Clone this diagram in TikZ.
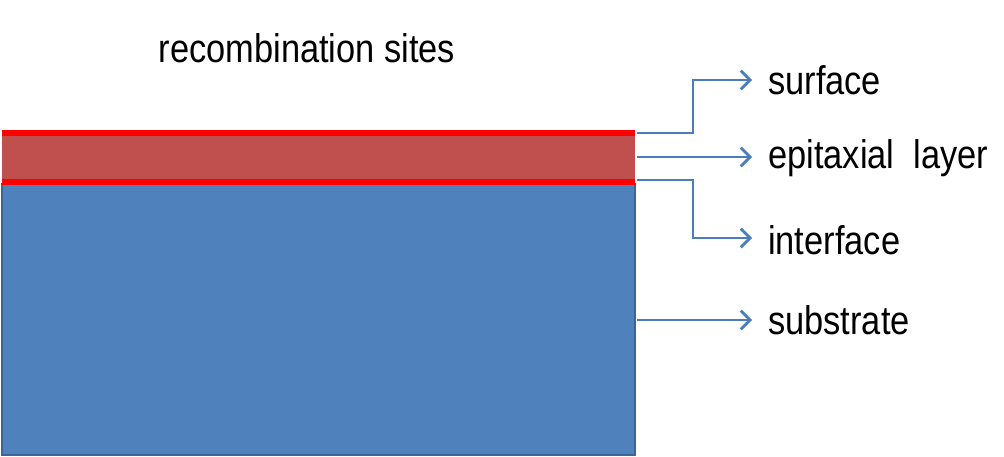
\documentclass[tikz,border=0pt]{standalone}
\usepackage{fontspec}
\setmainfont{Liberation Sans}
\usetikzlibrary{arrows.meta}
\definecolor{sub}{HTML}{4F81BD}
\definecolor{subd}{HTML}{3A6596}
\definecolor{epi}{HTML}{C0504D}
\definecolor{arr}{HTML}{4A7EBB}
\begin{document}
\begin{tikzpicture}[x=0.75pt,y=-0.75pt,
  lbl/.style={anchor=west,inner sep=0,font=\fontsize{30}{34}\selectfont,xscale=0.86},
  con/.style={draw=arr,line width=2pt,-{Straight Barb[length=7pt,width=14pt]}}]
\useasboundingbox (0,0) rectangle (1004,457);
\fill[sub,draw=subd,line width=1pt] (2,184) rectangle (635,455);
\fill[epi] (2,133) rectangle (635,184);
\draw[red,line width=4.5pt] (2,133) -- (635,133);
\draw[red,line width=4.5pt] (2,182) -- (635,182);
\coordinate (s0) at (637,133);
\coordinate (e0) at (637,157);
\coordinate (i0) at (637,180);
\coordinate (b0) at (637,320);
\node[lbl] (surf) at (768,80) {surface};
\node[lbl] (epil) at (768,158) {epitaxial\ \ layer};
\node[lbl] (intf) at (768,240) {interface};
\node[lbl] (subs) at (768,320) {substrate};
\node[inner sep=0,font=\fontsize{30}{34}\selectfont,xscale=0.86] (title) at (307,48) {recombination sites};
\draw[con] (s0) -- (693,133) -- (693,80) -- (752,80);
\draw[con] (e0) -- (752,157);
\draw[con] (i0) -- (693,180) -- (693,238) -- (752,238);
\draw[con] (b0) -- (752,320);
\end{tikzpicture}
\end{document}
